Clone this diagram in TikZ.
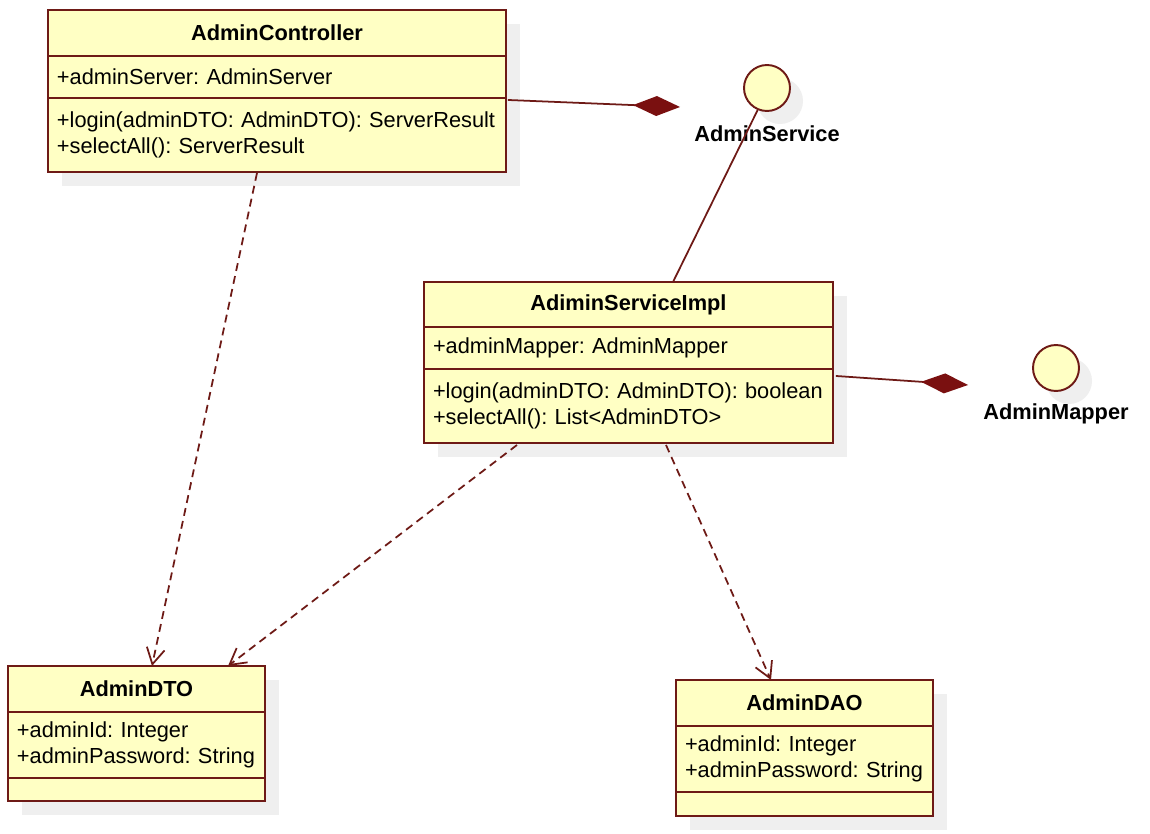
\documentclass[tikz,border=0pt]{standalone}
\usepackage{fontspec}
\setmainfont{Liberation Sans}
\usetikzlibrary{arrows.meta,positioning,calc,shadows}
\definecolor{umlLine}{HTML}{6E1A16}
\definecolor{umlFill}{HTML}{FFFFC4}
\definecolor{umlHead}{HTML}{7A1010}
\definecolor{umlShadow}{HTML}{EFEFEF}
\frenchspacing

\begin{document}
\begin{tikzpicture}[
  x=0.02cm, y=-0.02cm,
  font=\fontsize{12.4}{14.7}\selectfont,
  umlbox/.style={draw=umlLine, fill=umlFill, line width=1.1pt, outer sep=0pt, anchor=north west,
    drop shadow={shadow xshift=0.28cm, shadow yshift=-0.28cm, fill=umlShadow, opacity=1}},
  classname/.style={umlbox, font=\fontsize{12.4}{14.7}\selectfont\bfseries, inner sep=0pt},
  members/.style={umlbox, align=left, inner xsep=0.18cm, inner ysep=0pt, text width=#1,
    execute at begin node={\hyphenpenalty=10000\relax}},
  iface/.style={circle, draw=umlLine, fill=umlFill, line width=1.1pt, minimum size=0.92cm, inner sep=0pt,
    drop shadow={shadow xshift=0.26cm, shadow yshift=-0.26cm, fill=umlShadow, opacity=1}},
  ifacelabel/.style={font=\fontsize{12.4}{14.7}\selectfont\bfseries},
  compose/.style={draw=umlLine, line width=1pt, -{Diamond[length=0.94cm, width=0.4cm, color=umlHead, fill=umlHead]}},
  dep/.style={draw=umlLine, line width=1pt, dash pattern=on 4.5pt off 3pt, -{Straight Barb[length=0.32cm, width=0.36cm]}},
  link/.style={draw=umlLine, line width=1pt}
]
\fill[white] (0,0) rectangle (1150,834);
\useasboundingbox (0,0) rectangle (1150,834);

% ------------------------------------------------------------------
% AdminController
% ------------------------------------------------------------------
\node[classname, minimum width=9.16cm, minimum height=0.92cm] (ctrltitle) at (48,10) {AdminController};
\node[members=8.80cm, minimum height=0.84cm, below=0pt of ctrltitle] (ctrlattr) {+adminServer: AdminServer};
\node[members=8.80cm, minimum height=1.48cm, below=0pt of ctrlattr] (ctrlops)
{+login(adminDTO: AdminDTO): ServerResult\\+selectAll(): ServerResult\\[4pt]};

% ------------------------------------------------------------------
% Interfaces
% ------------------------------------------------------------------
\node[iface] (svc) at (767,88) {};
\node[ifacelabel] (svclabel) at (767,134) {AdminService};
\node[iface] (mapper) at (1056,368) {};
\node[ifacelabel] (mapperlabel) at (1056,414) {AdminMapper};

% ------------------------------------------------------------------
% AdiminServiceImpl
% ------------------------------------------------------------------
\node[classname, minimum width=8.18cm, minimum height=0.9cm] (impltitle) at (424,282) {AdiminServiceImpl};
\node[members=7.82cm, minimum height=0.84cm, below=0pt of impltitle] (implattr) {+adminMapper: AdminMapper};
\node[members=7.82cm, minimum height=1.48cm, below=0pt of implattr] (implops)
{+login(adminDTO: AdminDTO): boolean\\+selectAll(): List<AdminDTO>\\[4pt]};

% ------------------------------------------------------------------
% AdminDTO and AdminDAO
% ------------------------------------------------------------------
\node[classname, minimum width=5.14cm, minimum height=0.92cm] (dtotitle) at (8,666) {AdminDTO};
\node[members=4.78cm, minimum height=1.32cm, below=0pt of dtotitle] (dtoattr)
{+adminId: Integer\\+adminPassword: String};
\node[members=4.78cm, minimum height=0.46cm, below=0pt of dtoattr] (dtoops) {};

\node[classname, minimum width=5.14cm, minimum height=0.92cm] (daotitle) at (676,680) {AdminDAO};
\node[members=4.78cm, minimum height=1.32cm, below=0pt of daotitle] (daoattr)
{+adminId: Integer\\+adminPassword: String};
\node[members=4.78cm, minimum height=0.48cm, below=0pt of daoattr] (daoops) {};

% ------------------------------------------------------------------
% Connectors
% ------------------------------------------------------------------
\coordinate (svctip) at (680,107);
\coordinate (mappertip) at (968,385);
\draw[compose] ($(ctrlops.north east)+(2,2)$) -- (svctip);
\draw[compose] ($(implops.north east)+(3,7)$) -- (mappertip);
\draw[link] (svc.247) -- ($(impltitle.north west)+(249,0)$);

\draw[dep] ($(ctrlops.south west)+(209,1)$) -- ($(dtotitle.north west)+(144,0)$);
\draw[dep] ($(implops.south west)+(93,2)$) -- ($(dtotitle.north west)+(220,0)$);
\draw[dep] ($(implops.south west)+(242,2)$) -- ($(daotitle.north west)+(95,0)$);

\end{tikzpicture}
\end{document}
